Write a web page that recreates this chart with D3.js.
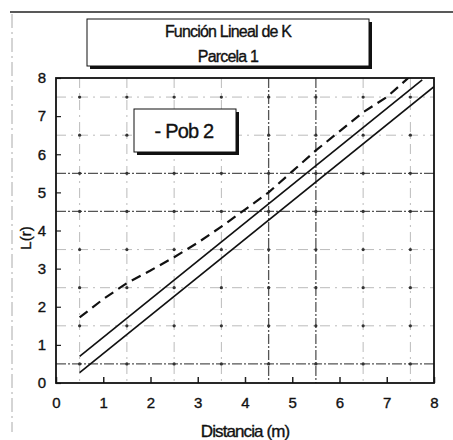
<!DOCTYPE html>
<html>
<head>
<meta charset="utf-8">
<script src="https://cdn.jsdelivr.net/npm/d3@7"></script>
<style>
  html, body { margin: 0; padding: 0; background: #fff; }
  svg { display: block; font-family: "Liberation Sans", Arial, sans-serif; }
  text { stroke: #111; stroke-width: 0.35px; }
</style>
</head>
<body>
<svg id="chart" width="453" height="440"></svg>
<script>
// Chart text
const titleLines = ["Función Lineal de K", "Parcela 1"];
const legendLabel = "- Pob 2";
const xLabel = "Distancia (m)";
const yLabel = "L(r)";

// Axis ticks and grid positions
const xTicks = [0, 1, 2, 3, 4, 5, 6, 7, 8];
const yTicks = [0, 1, 2, 3, 4, 5, 6, 7, 8];
const gridX = [0.5, 1.5, 2.5, 3.5, 4.5, 5.5, 6.5, 7.5];
const gridY = [0.5, 1.5, 2.5, 3.5, 4.5, 5.5, 6.5, 7.5];
const strongGridX = [4.5, 5.5];
const strongGridY = [0.5, 4.5, 5.5];

// Confidence envelope (solid lines)
const upperX = [0.5, 7.75];
const upperY = [0.7, 7.95];
const lowerX = [0.5, 8.0];
const lowerY = [0.27, 7.77];

// Observed L(r) for Pob 2 (dashed line)
const distances = [0.5, 1.0, 1.5, 2.0, 2.5, 3.0, 3.5, 4.0, 4.5, 5.0, 5.5, 6.0, 6.5, 7.0, 7.5];
const pob2 = [1.72, 2.2, 2.62, 2.95, 3.3, 3.68, 4.1, 4.55, 5.0, 5.55, 6.1, 6.6, 7.1, 7.5, 8.05];

const svg = d3.select("#chart");
const plot = { left: 56, right: 434, top: 78, bottom: 383 };

const x = d3.scaleLinear().domain([0, 8]).range([plot.left, plot.right]);
const y = d3.scaleLinear().domain([0, 8]).range([plot.bottom, plot.top]);

// Outer frame: top rule and dashed left rule
svg.append("line").attr("x1", 10).attr("x2", 453).attr("y1", 12).attr("y2", 12)
  .attr("stroke", "#222").attr("stroke-width", 1.3);
svg.append("line").attr("x1", 12).attr("x2", 12).attr("y1", 14).attr("y2", 432)
  .attr("stroke", "#aaa").attr("stroke-width", 1).attr("stroke-dasharray", "14,4,2,4");

// Title box with drop shadow
const tb = { x: 87, y: 19, w: 282, h: 47 };
svg.append("rect").attr("x", tb.x + 3).attr("y", tb.y + 3).attr("width", tb.w).attr("height", tb.h).attr("fill", "#111");
svg.append("rect").attr("x", tb.x).attr("y", tb.y).attr("width", tb.w).attr("height", tb.h)
  .attr("fill", "#fff").attr("stroke", "#111").attr("stroke-width", 1);
svg.selectAll("text.title").data(titleLines).join("text")
  .attr("class", "title")
  .attr("x", tb.x + tb.w / 2)
  .attr("y", (d, i) => 37 + i * 25)
  .attr("text-anchor", "middle")
  .attr("font-size", 16)
  .attr("letter-spacing", -0.8)
  .attr("fill", "#111")
  .text(d => d);

// Grid
const g = svg.append("g");
g.selectAll("line.gx").data(gridX).join("line")
  .attr("x1", d => x(d)).attr("x2", d => x(d))
  .attr("y1", plot.top).attr("y2", plot.bottom)
  .attr("stroke", d => strongGridX.includes(d) ? "#555" : "#bbb")
  .attr("stroke-width", d => strongGridX.includes(d) ? 1.3 : 1)
  .attr("stroke-dasharray", d => strongGridX.includes(d) ? "10,2,2,2" : "10,5,2,5");
g.selectAll("line.gy").data(gridY).join("line")
  .attr("x1", plot.left).attr("x2", plot.right)
  .attr("y1", d => y(d)).attr("y2", d => y(d))
  .attr("stroke", d => strongGridY.includes(d) ? "#555" : "#bbb")
  .attr("stroke-width", d => strongGridY.includes(d) ? 1.2 : 1)
  .attr("stroke-dasharray", d => strongGridY.includes(d) ? "10,2,2,2" : "10,5,2,5");

// Dots where grid lines cross
const crossings = [];
gridX.forEach(gx => gridY.forEach(gy => crossings.push([gx, gy])));
g.selectAll("circle.dot").data(crossings).join("circle")
  .attr("cx", d => x(d[0])).attr("cy", d => y(d[1])).attr("r", 1.6)
  .attr("fill", "#333");

// Axes: labels outside, short ticks pointing into the plot
const xAxis = d3.axisBottom(x).tickValues(xTicks).tickSize(-6).tickPadding(14);
const yAxis = d3.axisLeft(y).tickValues(yTicks).tickSize(-5).tickPadding(10);
svg.append("g").attr("transform", `translate(0,${plot.bottom})`).call(xAxis)
  .call(a => a.select(".domain").remove())
  .call(a => a.selectAll("line").attr("stroke", "#222").attr("stroke-width", 1.5))
  .call(a => a.selectAll("text").attr("font-size", 15).attr("fill", "#111").attr("font-family", "Liberation Sans, Arial, sans-serif"));
svg.append("g").attr("transform", `translate(${plot.left},0)`).call(yAxis)
  .call(a => a.select(".domain").remove())
  .call(a => a.selectAll("line").attr("stroke", "#222").attr("stroke-width", 1.2))
  .call(a => a.selectAll("text").attr("font-size", 15).attr("fill", "#111").attr("font-family", "Liberation Sans, Arial, sans-serif"));

// Plot border
svg.append("rect")
  .attr("x", plot.left).attr("y", plot.top)
  .attr("width", plot.right - plot.left).attr("height", plot.bottom - plot.top)
  .attr("fill", "none").attr("stroke", "#111").attr("stroke-width", 1.8);

// Series, clipped to the plotting area
svg.append("clipPath").attr("id", "clip").append("rect")
  .attr("x", plot.left).attr("y", plot.top)
  .attr("width", plot.right - plot.left).attr("height", plot.bottom - plot.top);
const series = svg.append("g").attr("clip-path", "url(#clip)");
const line = d3.line().x(d => x(d[0])).y(d => y(d[1]));

series.append("path").datum(d3.zip(upperX, upperY)).attr("d", line)
  .attr("fill", "none").attr("stroke", "#111").attr("stroke-width", 1.7);
series.append("path").datum(d3.zip(lowerX, lowerY)).attr("d", line)
  .attr("fill", "none").attr("stroke", "#111").attr("stroke-width", 1.7);
series.append("path").datum(d3.zip(distances, pob2)).attr("d", line)
  .attr("fill", "none").attr("stroke", "#111").attr("stroke-width", 2.2)
  .attr("stroke-dasharray", "10,6");

// Legend box with drop shadow
const lb = { x: 134, y: 109, w: 102, h: 43 };
svg.append("rect").attr("x", lb.x + 3).attr("y", lb.y + 3).attr("width", lb.w).attr("height", lb.h).attr("fill", "#111");
svg.append("rect").attr("x", lb.x).attr("y", lb.y).attr("width", lb.w).attr("height", lb.h)
  .attr("fill", "#fff").attr("stroke", "#111").attr("stroke-width", 1);
svg.append("text").attr("x", lb.x + lb.w / 2 - 1).attr("y", lb.y + 29)
  .attr("text-anchor", "middle").attr("font-size", 20).attr("letter-spacing", -0.8)
  .attr("fill", "#111").text(legendLabel);

// Axis titles
svg.append("text").attr("x", 245).attr("y", 437).attr("text-anchor", "middle")
  .attr("font-size", 17).attr("letter-spacing", -0.9).attr("fill", "#111").text(xLabel);
svg.append("text").attr("transform", "translate(31,238) rotate(-90)")
  .attr("text-anchor", "middle").attr("font-size", 15).attr("fill", "#111").text(yLabel);
</script>
</body>
</html>
